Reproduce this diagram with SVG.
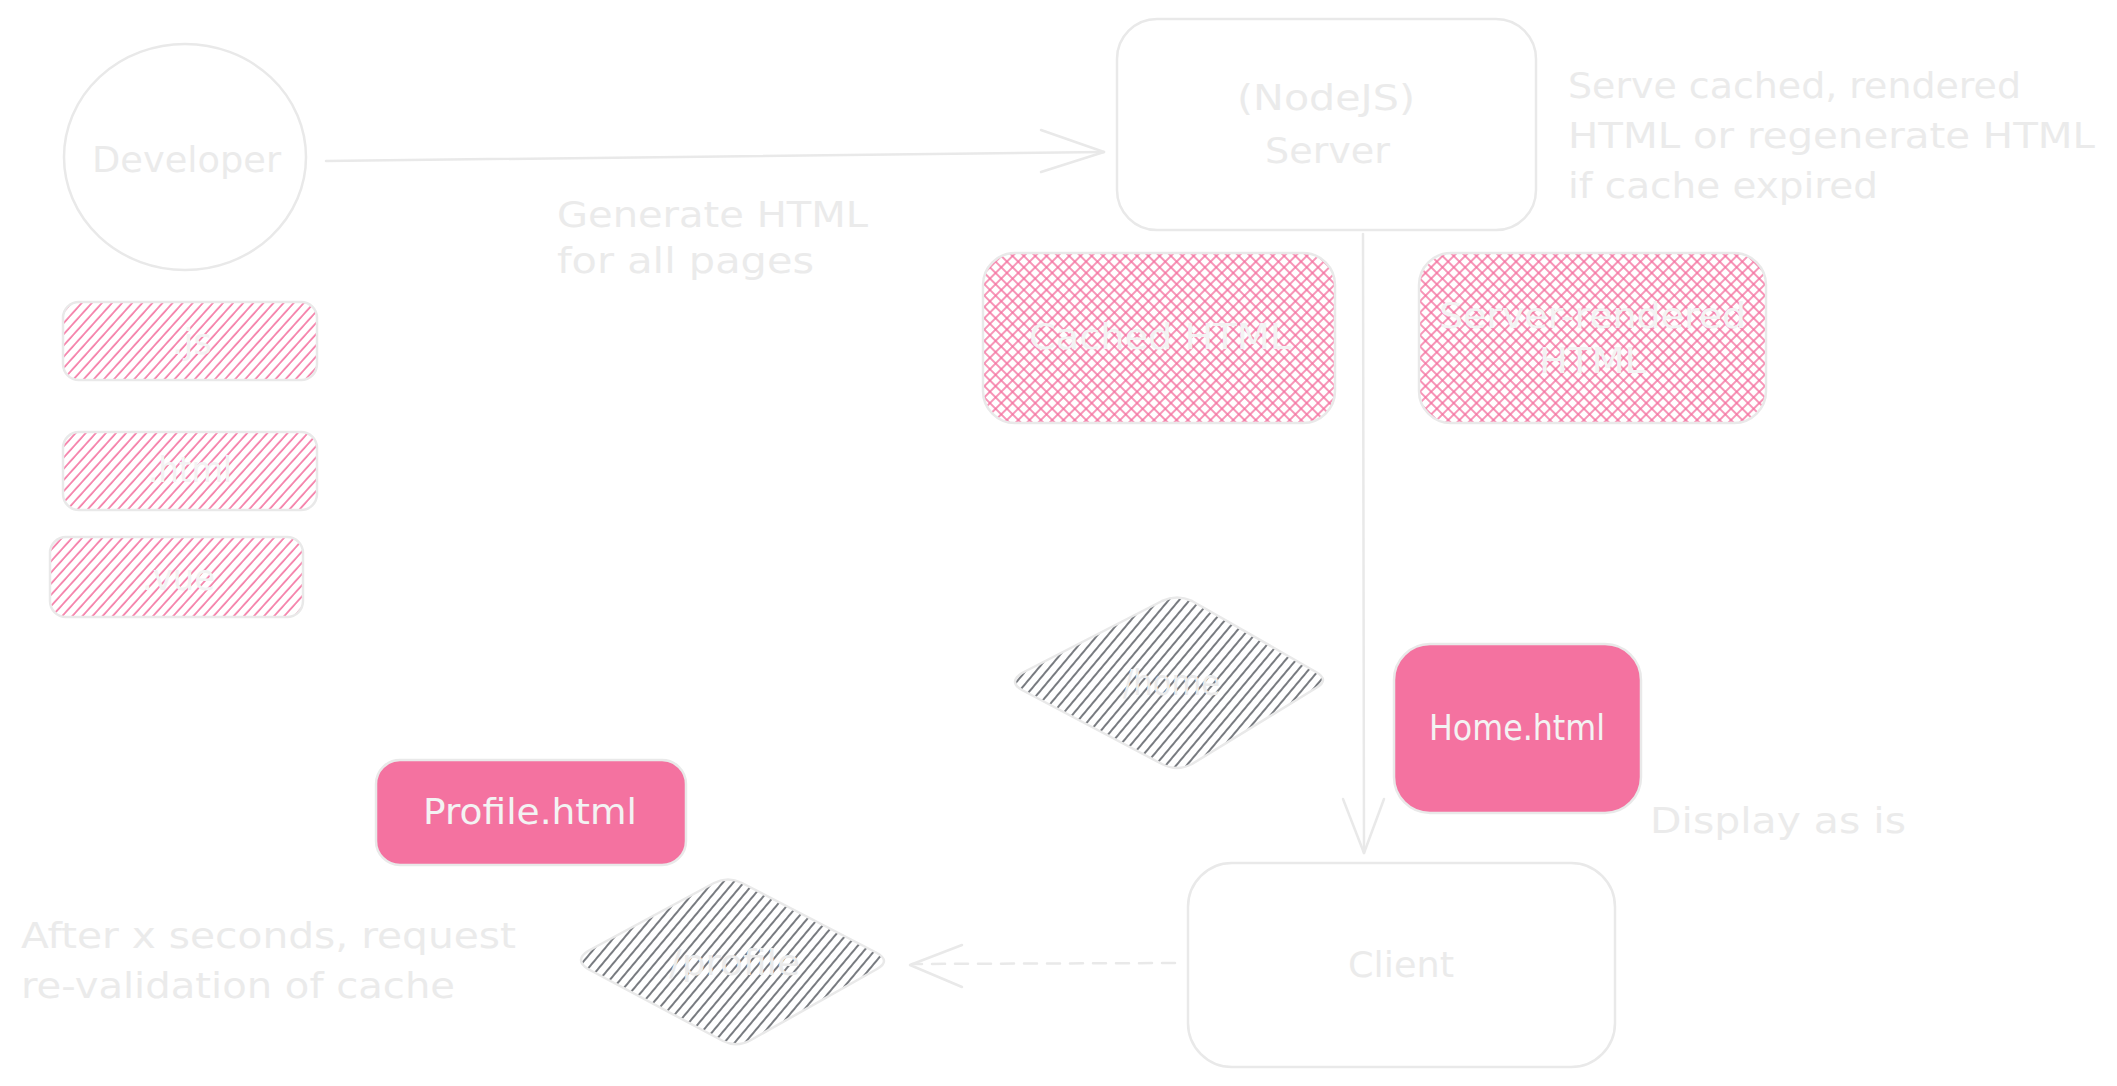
<svg xmlns="http://www.w3.org/2000/svg" width="2117" height="1086" viewBox="0 0 2117 1086">
<defs>
<style>
.lbl{font-family:"DejaVu Sans","Liberation Sans",sans-serif;font-size:36px;fill:#ebebeb}
.in{fill:#f3f3f3}
.shape{stroke:#e9e9e9;stroke-width:2.5}
.conn{stroke:#e9e9e9;stroke-width:2.5;fill:none;stroke-linecap:round;stroke-linejoin:round}
</style>
<pattern id="hachPink" width="7.5" height="7.5" patternUnits="userSpaceOnUse" patternTransform="rotate(42)">
<line x1="1" y1="0" x2="1" y2="7.5" stroke="#f472a0" stroke-width="1.6"/>
</pattern>
<pattern id="crossPink" width="8" height="8" patternUnits="userSpaceOnUse" patternTransform="rotate(45)">
<line x1="1" y1="0" x2="1" y2="8" stroke="#f472a0" stroke-width="1.5"/>
<line x1="0" y1="1" x2="8" y2="1" stroke="#f472a0" stroke-width="1.5"/>
</pattern>
<pattern id="hachDark" width="8" height="8" patternUnits="userSpaceOnUse" patternTransform="rotate(40)">
<line x1="1" y1="0" x2="1" y2="8" stroke="#4a4f55" stroke-width="1.5"/>
</pattern>
</defs>
<rect width="2117" height="1086" fill="#ffffff"/>

<g id="connectors">
<path class="conn" d="M326 161 L1104 152"/>
<path class="conn" d="M1041 130 L1104 152 L1041 172"/>
<path class="conn" d="M1363 234 L1364 853"/>
<path class="conn" d="M1343 799 L1364 853 L1384 799"/>
<path class="conn" d="M1175 963 L912 964" stroke-dasharray="13 10"/>
<path class="conn" d="M962 945 L910 965 L962 987"/>
</g>

<g id="developer">
<ellipse class="shape" cx="185" cy="157" rx="121" ry="113" fill="none"/>
<text class="lbl" x="92" y="172" textLength="189" lengthAdjust="spacingAndGlyphs">Developer</text>
</g>

<g id="label-generate">
<text class="lbl" x="557" y="227" textLength="311" lengthAdjust="spacingAndGlyphs">Generate HTML</text>
<text class="lbl" x="557" y="273" textLength="257" lengthAdjust="spacingAndGlyphs">for all pages</text>
</g>

<g id="server">
<rect class="shape" x="1117" y="19" width="419" height="211" rx="40" fill="none"/>
<text class="lbl" x="1237" y="110" textLength="178" lengthAdjust="spacingAndGlyphs">(NodeJS)</text>
<text class="lbl" x="1265" y="163" textLength="125" lengthAdjust="spacingAndGlyphs">Server</text>
</g>

<g id="label-serve">
<text class="lbl" x="1568" y="98" textLength="453" lengthAdjust="spacingAndGlyphs">Serve cached, rendered</text>
<text class="lbl" x="1568" y="148" textLength="527" lengthAdjust="spacingAndGlyphs">HTML or regenerate HTML</text>
<text class="lbl" x="1568" y="198" textLength="310" lengthAdjust="spacingAndGlyphs">if cache expired</text>
</g>

<g id="cached-html">
<rect class="shape" x="983" y="253" width="352" height="170" rx="32" fill="url(#crossPink)"/>
<text class="lbl in" x="1029" y="349" textLength="262" lengthAdjust="spacingAndGlyphs">Cached HTML</text>
</g>

<g id="server-rendered-html">
<rect class="shape" x="1419" y="253" width="347" height="170" rx="32" fill="url(#crossPink)"/>
<text class="lbl in" x="1439" y="328" textLength="307" lengthAdjust="spacingAndGlyphs">Server-rendered</text>
<text class="lbl in" x="1539" y="373" textLength="107" lengthAdjust="spacingAndGlyphs">HTML</text>
</g>

<g id="js">
<rect class="shape" x="63" y="302" width="254" height="78" rx="16" fill="url(#hachPink)"/>
<text class="lbl in" x="172" y="354" textLength="40" lengthAdjust="spacingAndGlyphs">.js</text>
</g>

<g id="html">
<rect class="shape" x="63" y="432" width="254" height="78" rx="16" fill="url(#hachPink)"/>
<text class="lbl in" x="148" y="482" textLength="84" lengthAdjust="spacingAndGlyphs">.html</text>
</g>

<g id="vue">
<rect class="shape" x="50" y="537" width="253" height="80" rx="16" fill="url(#hachPink)"/>
<text class="lbl in" x="142" y="590" textLength="73" lengthAdjust="spacingAndGlyphs">.vue</text>
</g>

<g id="home-route">
<path class="shape" fill="url(#hachDark)" d="M1022 673 L1162 601 Q1177 594 1192 601 L1316 672 Q1330 680 1316 688 L1192 764 Q1177 772 1162 764 L1022 690 Q1008 682 1022 673 Z"/>
<text class="lbl" x="1123" y="695" textLength="97" lengthAdjust="spacingAndGlyphs">/home</text>
</g>

<g id="home-html">
<rect class="shape" x="1394" y="644" width="247" height="169" rx="36" fill="#f472a0"/>
<text class="lbl in" x="1429" y="740" textLength="176" lengthAdjust="spacingAndGlyphs">Home.html</text>
</g>

<g id="label-display">
<text class="lbl" x="1650" y="833" textLength="256" lengthAdjust="spacingAndGlyphs">Display as is</text>
</g>

<g id="client">
<rect class="shape" x="1188" y="863" width="427" height="204" rx="44" fill="none"/>
<text class="lbl" x="1348" y="977" textLength="106" lengthAdjust="spacingAndGlyphs">Client</text>
</g>

<g id="profile-html">
<rect class="shape" x="376" y="760" width="310" height="105" rx="24" fill="#f472a0"/>
<text class="lbl in" x="423" y="824" textLength="214" lengthAdjust="spacingAndGlyphs">Profile.html</text>
</g>

<g id="profile-route">
<path class="shape" fill="url(#hachDark)" d="M588 951 L714 883 Q728 876 742 883 L877 953 Q891 961 877 969 L751 1040 Q737 1048 723 1041 L588 969 Q574 960 588 951 Z"/>
<text class="lbl" x="669" y="975" textLength="131" lengthAdjust="spacingAndGlyphs">/profile</text>
</g>

<g id="label-after">
<text class="lbl" x="21" y="948" textLength="495" lengthAdjust="spacingAndGlyphs">After x seconds, request</text>
<text class="lbl" x="21" y="998" textLength="434" lengthAdjust="spacingAndGlyphs">re-validation of cache</text>
</g>
</svg>
